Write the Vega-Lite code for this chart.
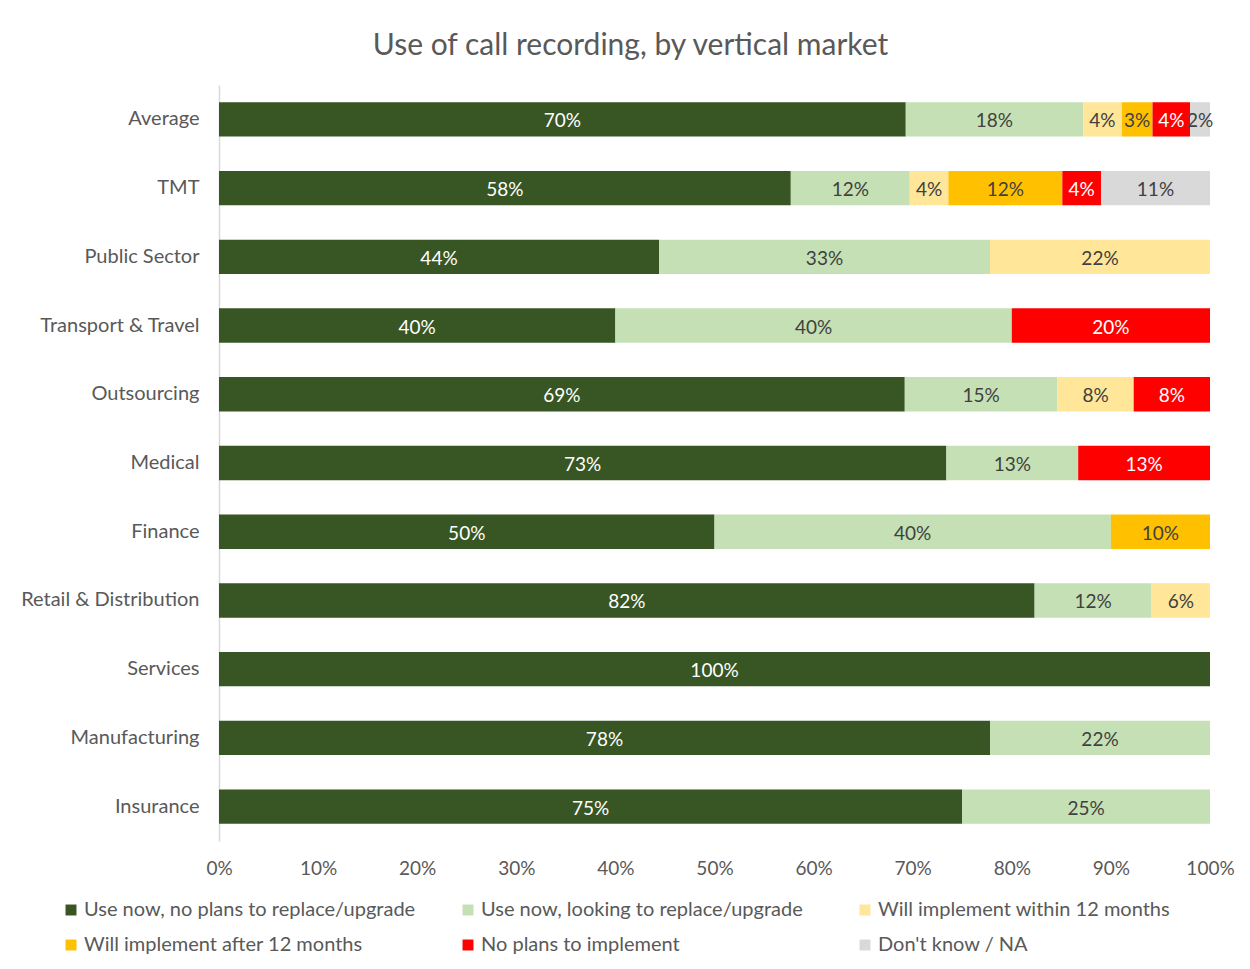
{
  "$schema": "https://vega.github.io/schema/vega-lite/v6.json",
  "autosize": {"type": "none"},
  "width": 991,
  "height": 756,
  "padding": {"left": 219, "top": 85, "right": 40, "bottom": 128},
  "background": "white",
  "config": {"view": {"stroke": null}},
  "title": {
    "text": "Use of call recording, by vertical market",
    "anchor": "middle",
    "frame": "group",
    "dx": -84,
    "offset": 24,
    "fontSize": 30,
    "font": "Lato",
    "fontWeight": "normal",
    "color": "#595959"
  },
  "data": {
    "values": [
      {"market": "Average", "cat": "Use now, no plans to replace/upgrade", "k": 1, "v": 0.693, "label": "70%"},
      {"market": "Average", "cat": "Use now, looking to replace/upgrade", "k": 2, "v": 0.179, "label": "18%"},
      {"market": "Average", "cat": "Will implement within 12 months", "k": 3, "v": 0.039, "label": "4%"},
      {"market": "Average", "cat": "Will implement after 12 months", "k": 4, "v": 0.031, "label": "3%"},
      {"market": "Average", "cat": "No plans to implement", "k": 5, "v": 0.038, "label": "4%"},
      {"market": "Average", "cat": "Don't know / NA", "k": 6, "v": 0.020, "label": "2%"},
      {"market": "TMT", "cat": "Use now, no plans to replace/upgrade", "k": 1, "v": 0.577, "label": "58%"},
      {"market": "TMT", "cat": "Use now, looking to replace/upgrade", "k": 2, "v": 0.120, "label": "12%"},
      {"market": "TMT", "cat": "Will implement within 12 months", "k": 3, "v": 0.039, "label": "4%"},
      {"market": "TMT", "cat": "Will implement after 12 months", "k": 4, "v": 0.115, "label": "12%"},
      {"market": "TMT", "cat": "No plans to implement", "k": 5, "v": 0.039, "label": "4%"},
      {"market": "TMT", "cat": "Don't know / NA", "k": 6, "v": 0.110, "label": "11%"},
      {"market": "Public Sector", "cat": "Use now, no plans to replace/upgrade", "k": 1, "v": 0.444, "label": "44%"},
      {"market": "Public Sector", "cat": "Use now, looking to replace/upgrade", "k": 2, "v": 0.334, "label": "33%"},
      {"market": "Public Sector", "cat": "Will implement within 12 months", "k": 3, "v": 0.222, "label": "22%"},
      {"market": "Transport & Travel", "cat": "Use now, no plans to replace/upgrade", "k": 1, "v": 0.40, "label": "40%"},
      {"market": "Transport & Travel", "cat": "Use now, looking to replace/upgrade", "k": 2, "v": 0.40, "label": "40%"},
      {"market": "Transport & Travel", "cat": "No plans to implement", "k": 5, "v": 0.20, "label": "20%"},
      {"market": "Outsourcing", "cat": "Use now, no plans to replace/upgrade", "k": 1, "v": 0.692, "label": "69%"},
      {"market": "Outsourcing", "cat": "Use now, looking to replace/upgrade", "k": 2, "v": 0.154, "label": "15%"},
      {"market": "Outsourcing", "cat": "Will implement within 12 months", "k": 3, "v": 0.077, "label": "8%"},
      {"market": "Outsourcing", "cat": "No plans to implement", "k": 5, "v": 0.077, "label": "8%"},
      {"market": "Medical", "cat": "Use now, no plans to replace/upgrade", "k": 1, "v": 0.734, "label": "73%"},
      {"market": "Medical", "cat": "Use now, looking to replace/upgrade", "k": 2, "v": 0.133, "label": "13%"},
      {"market": "Medical", "cat": "No plans to implement", "k": 5, "v": 0.133, "label": "13%"},
      {"market": "Finance", "cat": "Use now, no plans to replace/upgrade", "k": 1, "v": 0.50, "label": "50%"},
      {"market": "Finance", "cat": "Use now, looking to replace/upgrade", "k": 2, "v": 0.40, "label": "40%"},
      {"market": "Finance", "cat": "Will implement after 12 months", "k": 4, "v": 0.10, "label": "10%"},
      {"market": "Retail & Distribution", "cat": "Use now, no plans to replace/upgrade", "k": 1, "v": 0.823, "label": "82%"},
      {"market": "Retail & Distribution", "cat": "Use now, looking to replace/upgrade", "k": 2, "v": 0.118, "label": "12%"},
      {"market": "Retail & Distribution", "cat": "Will implement within 12 months", "k": 3, "v": 0.059, "label": "6%"},
      {"market": "Services", "cat": "Use now, no plans to replace/upgrade", "k": 1, "v": 1.0, "label": "100%"},
      {"market": "Manufacturing", "cat": "Use now, no plans to replace/upgrade", "k": 1, "v": 0.778, "label": "78%"},
      {"market": "Manufacturing", "cat": "Use now, looking to replace/upgrade", "k": 2, "v": 0.222, "label": "22%"},
      {"market": "Insurance", "cat": "Use now, no plans to replace/upgrade", "k": 1, "v": 0.75, "label": "75%"},
      {"market": "Insurance", "cat": "Use now, looking to replace/upgrade", "k": 2, "v": 0.25, "label": "25%"}
    ]
  },
  "encoding": {
    "y": {
      "field": "market",
      "type": "nominal",
      "sort": ["Average", "TMT", "Public Sector", "Transport & Travel", "Outsourcing", "Medical", "Finance", "Retail & Distribution", "Services", "Manufacturing", "Insurance"],
      "scale": {"paddingInner": 0.5, "paddingOuter": 0.25},
      "axis": {
        "title": null,
        "domain": true,
        "domainColor": "#d9d9d9",
        "domainWidth": 1.5,
        "ticks": false,
        "labelFont": "Lato",
        "labelFontSize": 20,
        "labelColor": "#595959",
        "labelPadding": 20,
        "labelLimit": 250
      }
    },
    "x": {
      "field": "v",
      "type": "quantitative",
      "stack": "zero",
      "scale": {"domain": [0, 1], "nice": false},
      "axis": {
        "title": null,
        "format": ".0%",
        "values": [0, 0.1, 0.2, 0.3, 0.4, 0.5, 0.6, 0.7, 0.8, 0.9, 1],
        "grid": false,
        "domain": false,
        "ticks": false,
        "labelFlush": false,
        "labelFont": "Lato",
        "labelFontSize": 19,
        "labelColor": "#595959",
        "labelPadding": 18
      }
    },
    "order": {"field": "k", "type": "quantitative"}
  },
  "layer": [
    {
      "mark": {"type": "bar"},
      "encoding": {
        "color": {
          "field": "cat",
          "type": "nominal",
          "scale": {
            "domain": ["Use now, no plans to replace/upgrade", "Use now, looking to replace/upgrade", "Will implement within 12 months", "Will implement after 12 months", "No plans to implement", "Don't know / NA"],
            "range": ["#375623", "#C5E0B4", "#FFE699", "#FFC000", "#FF0000", "#D9D9D9"]
          },
          "legend": {
            "title": null,
            "orient": "none",
            "legendX": -158,
            "legendY": 815,
            "direction": "horizontal",
            "columns": 3,
            "gridAlign": "all",
            "columnPadding": 42,
            "rowPadding": 15,
            "symbolType": "square",
            "symbolSize": 120,
            "symbolStrokeWidth": 0,
            "symbolOffset": 0,
            "labelOffset": 3,
            "labelFont": "Lato",
            "labelFontSize": 20,
            "labelColor": "#595959",
            "labelLimit": 400
          }
        }
      }
    },
    {
      "mark": {"type": "text", "font": "Lato", "fontSize": 19, "align": "center", "baseline": "middle", "dy": 2},
      "encoding": {
        "x": {"field": "v", "type": "quantitative", "stack": "zero", "bandPosition": 0.5},
        "text": {"field": "label"},
        "color": {
          "condition": {"test": "datum.cat === 'Use now, no plans to replace/upgrade' || datum.cat === 'No plans to implement'", "value": "white"},
          "value": "#404040"
        }
      }
    }
  ]
}
